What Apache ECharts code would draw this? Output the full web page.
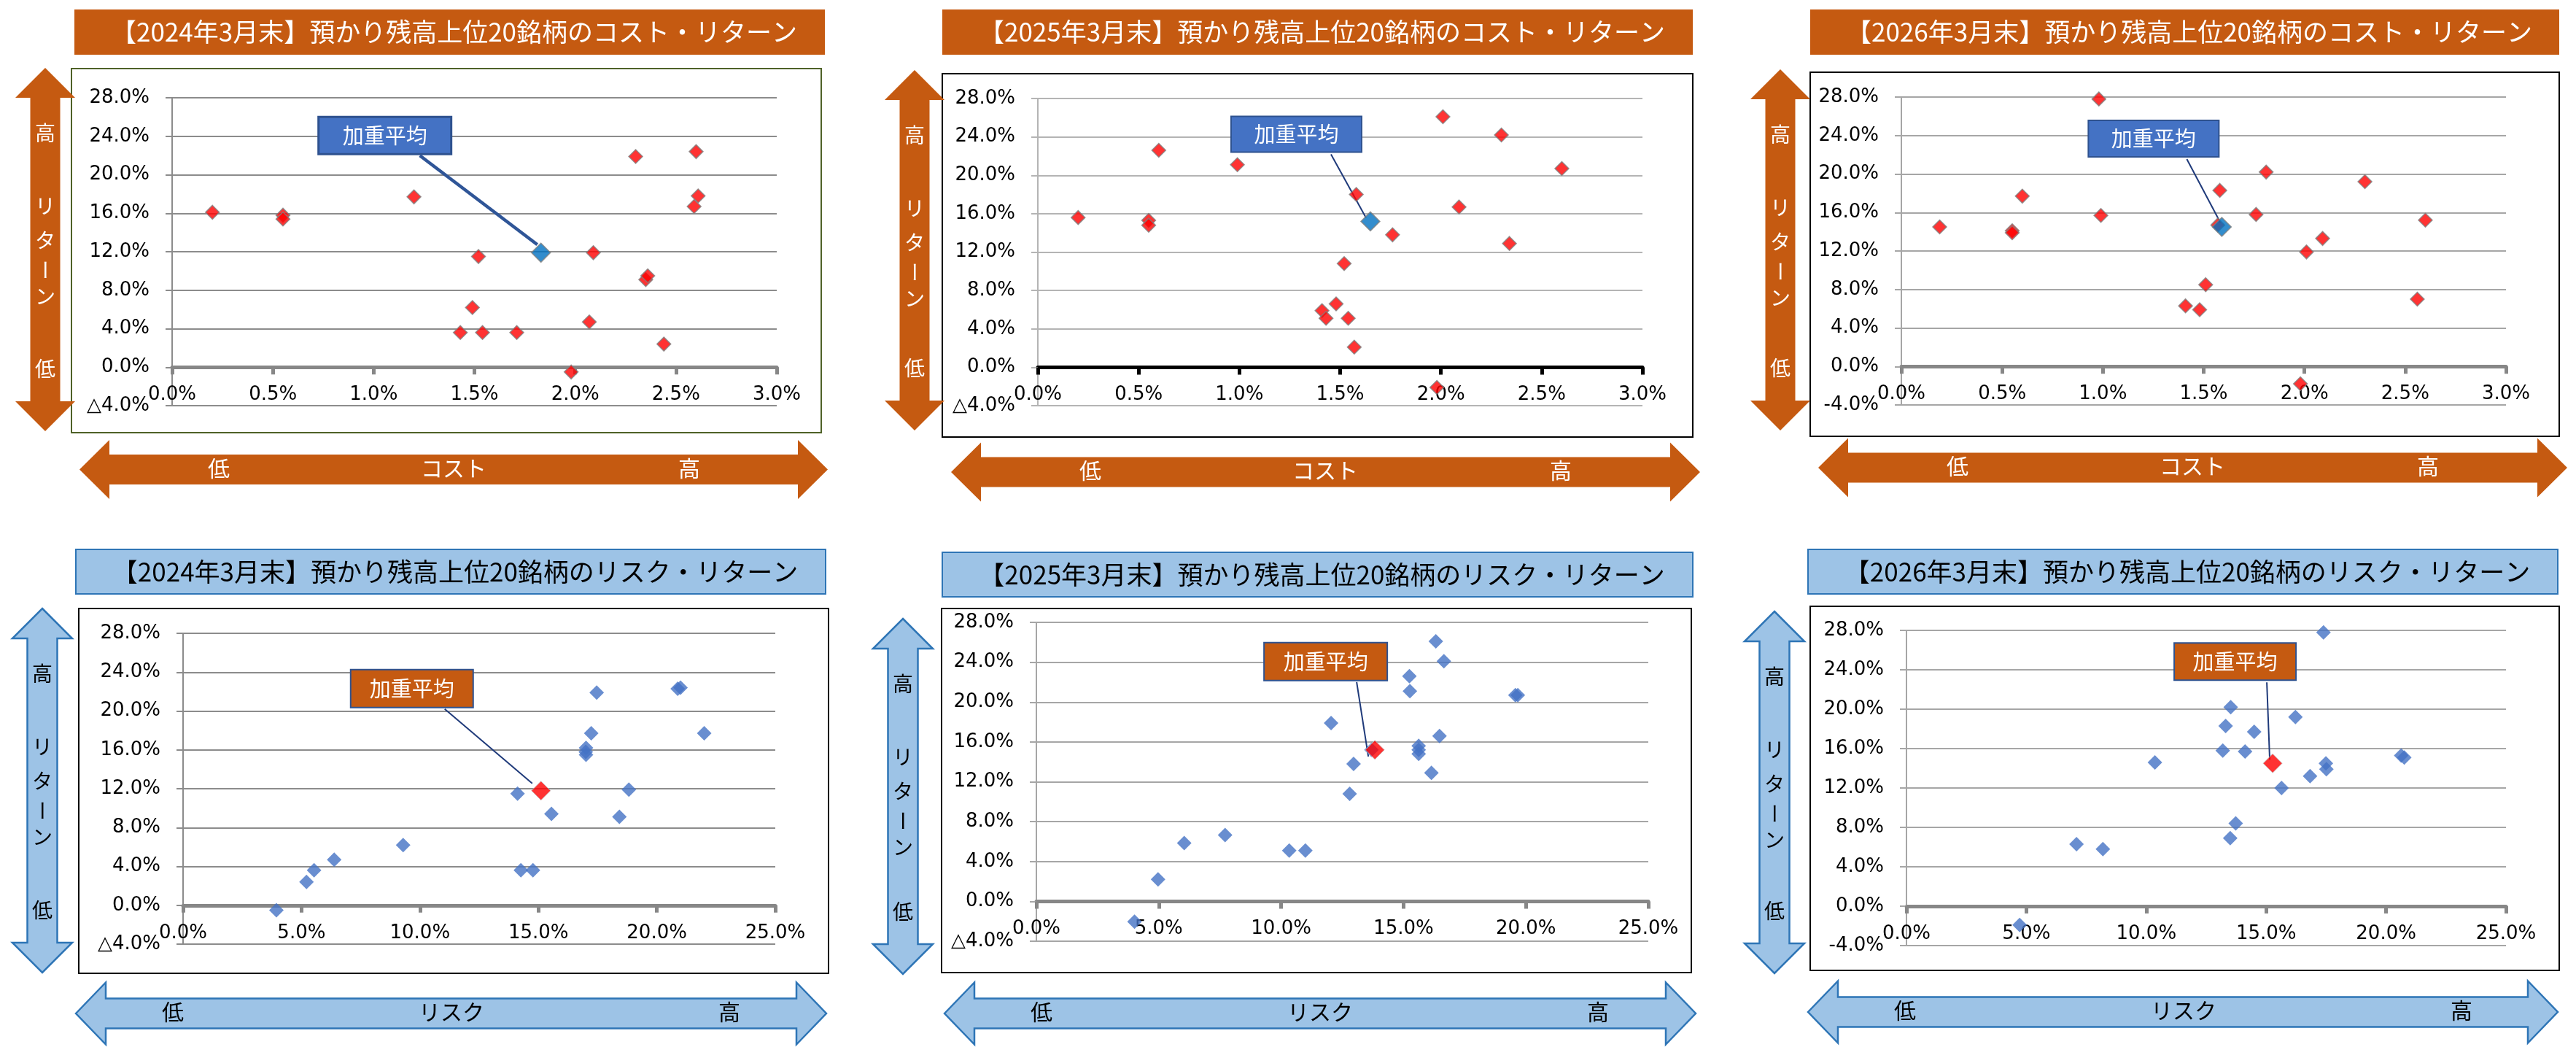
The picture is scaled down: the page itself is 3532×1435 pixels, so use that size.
<!DOCTYPE html>
<html><head><meta charset="utf-8">
<script src="https://cdn.jsdelivr.net/npm/echarts@6/dist/echarts.min.js"></script>
<style>html,body{margin:0;padding:0;background:#fff}#c{width:3532px;height:1435px}</style>
</head><body><div id="c"></div>
<script>
// ---------- DATA ----------
const cost2024X = [0.20, 0.55, 0.55, 1.20, 1.52, 1.49, 1.43, 1.54, 1.71, 1.98, 2.07, 2.09, 2.30, 2.35, 2.36, 2.44, 2.60, 2.61, 2.59];
const cost2024Y = [16.1, 15.8, 15.4, 17.7, 11.5, 6.2, 3.6, 3.6, 3.6, -0.5, 4.7, 11.9, 21.9, 9.1, 9.5, 2.4, 22.4, 17.8, 16.7];
const cost2024Avg = [1.83, 11.9];

const cost2025X = [0.20, 0.55, 0.55, 0.60, 0.99, 1.58, 1.52, 1.48, 1.41, 1.43, 1.54, 1.57, 1.76, 1.98, 2.01, 2.09, 2.30, 2.34, 2.60];
const cost2025Y = [15.6, 15.3, 14.8, 22.6, 21.1, 18.0, 10.8, 6.6, 5.9, 5.1, 5.1, 2.1, 13.8, -2.1, 26.1, 16.7, 24.2, 12.9, 20.7];
const cost2025Avg = [1.65, 15.2];

const cost2026X = [0.19, 0.55, 0.55, 0.60, 0.98, 0.99, 1.57, 1.58, 1.81, 1.76, 1.51, 1.41, 1.48, 1.98, 2.01, 2.09, 2.30, 2.56, 2.60];
const cost2026Y = [14.5, 14.1, 13.9, 17.7, 27.8, 15.7, 14.7, 18.3, 20.2, 15.8, 8.5, 6.3, 5.9, -1.8, 11.9, 13.3, 19.2, 7.0, 15.2];
const cost2026Avg = [1.59, 14.5];

const risk2024X = [3.94, 5.21, 5.53, 6.38, 9.29, 14.12, 14.26, 14.77, 15.55, 17.01, 17.01, 17.0, 17.23, 17.46, 18.42, 18.82, 20.88, 21.0, 22.0];
const risk2024Y = [-0.5, 2.4, 3.6, 4.7, 6.2, 11.5, 3.6, 3.6, 9.4, 16.2, 15.5, 15.8, 17.7, 21.9, 9.1, 11.9, 22.3, 22.4, 17.7];
const risk2024Avg = [15.11, 11.8];

const risk2025X = [4.01, 4.97, 6.04, 7.71, 10.33, 10.99, 12.04, 12.80, 12.96, 13.69, 15.24, 15.26, 15.62, 15.62, 15.62, 16.14, 16.32, 16.47, 16.65, 19.57, 19.67];
const risk2025Y = [-2.05, 2.2, 5.85, 6.65, 5.1, 5.1, 17.9, 10.8, 13.8, 15.2, 22.6, 21.1, 15.6, 15.2, 14.8, 12.9, 26.1, 16.6, 24.1, 20.7, 20.7];
const risk2025Avg = [13.83, 15.2];

const risk2026X = [4.72, 7.09, 8.19, 10.36, 13.19, 13.31, 13.52, 13.50, 13.73, 14.12, 14.50, 15.64, 16.22, 16.83, 17.39, 17.49, 17.51, 20.63, 20.76];
const risk2026Y = [-1.9, 6.3, 5.8, 14.6, 15.8, 18.3, 20.2, 6.9, 8.4, 15.7, 17.7, 12.0, 19.2, 13.2, 27.8, 14.5, 13.9, 15.3, 15.1];
const risk2026Avg = [15.27, 14.5];

const costTicks = ['0.0%', '0.5%', '1.0%', '1.5%', '2.0%', '2.5%', '3.0%'];
const riskTicks = ['0.0%', '5.0%', '10.0%', '15.0%', '20.0%', '25.0%'];
const returnTicksTri = ['△4.0%', '0.0%', '4.0%', '8.0%', '12.0%', '16.0%', '20.0%', '24.0%', '28.0%'];
const returnTicksMinus = ['-4.0%', '0.0%', '4.0%', '8.0%', '12.0%', '16.0%', '20.0%', '24.0%', '28.0%'];

const titles = [
  '【2024年3月末】預かり残高上位20銘柄のコスト・リターン',
  '【2025年3月末】預かり残高上位20銘柄のコスト・リターン',
  '【2026年3月末】預かり残高上位20銘柄のコスト・リターン',
  '【2024年3月末】預かり残高上位20銘柄のリスク・リターン',
  '【2025年3月末】預かり残高上位20銘柄のリスク・リターン',
  '【2026年3月末】預かり残高上位20銘柄のリスク・リターン'
];
const calloutText = '加重平均';
const vArrowTexts = ['高', 'リ', 'タ', 'ー', 'ン', '低'];
const costArrowTexts = ['低', 'コスト', '高'];
const riskArrowTexts = ['低', 'リスク', '高'];

// ---------- LAYOUT / STYLE ----------
const ORANGE = '#C55A11', LBLUE = '#9DC3E6', BBORDER = '#2E75B6';
const panels = [
  {xs: cost2024X, ys: cost2024Y, avg: cost2024Avg, xTicks: costTicks, xMax: 3, xInt: 0.5, yTicks: returnTicksTri, kind: 'cost',
   grid: {left: 236, top: 134, width: 829, height: 422}, frame: [98, 94, 1028, 499, '#4F6228'], title: [102, 13, 1029, 62],
   va: {xc: 62, y1: 93, y2: 591}, ha: {x1: 109, x2: 1135, yc: 643.5}, axisColor: '#878787', gridColor: '#8C8C8C',
   co: {box: [-305, -186, 182, 51], line: [-166, -133, -5, -11], lw: 4.5, bw: 3}},
  {xs: cost2025X, ys: cost2025Y, avg: cost2025Avg, xTicks: costTicks, xMax: 3, xInt: 0.5, yTicks: returnTicksTri, kind: 'cost',
   grid: {left: 1423, top: 135, width: 829, height: 421}, frame: [1292, 101, 1029, 498, '#000'], title: [1292, 13, 1029, 62],
   va: {xc: 1254, y1: 96, y2: 590}, ha: {x1: 1304, x2: 2331, yc: 647}, axisColor: '#000', gridColor: '#B4B4B4',
   co: {box: [-191, -144, 179, 49], line: [-54, -92, -6, -5], lw: 2, bw: 2}},
  {xs: cost2026X, ys: cost2026Y, avg: cost2026Avg, xTicks: costTicks, xMax: 3, xInt: 0.5, yTicks: returnTicksMinus, kind: 'cost',
   grid: {left: 2607, top: 133, width: 829, height: 422}, frame: [2482, 99, 1027, 499, '#000'], title: [2482, 13, 1027, 62],
   va: {xc: 2441, y1: 95, y2: 590}, ha: {x1: 2493, x2: 3520, yc: 641}, axisColor: '#878787', gridColor: '#A6A6A6',
   co: {box: [-183, -146, 179, 50], line: [-48, -93, -2, -6], lw: 2, bw: 2}},
  {xs: risk2024X, ys: risk2024Y, avg: risk2024Avg, xTicks: riskTicks, xMax: 25, xInt: 5, yTicks: returnTicksTri, kind: 'risk',
   grid: {left: 251, top: 868, width: 812, height: 426}, frame: [108, 834, 1028, 500, '#000'], title: [104, 753, 1028, 61],
   va: {xc: 58, y1: 834, y2: 1333}, ha: {x1: 104, x2: 1133, yc: 1389}, axisColor: '#878787', gridColor: '#8C8C8C',
   co: {box: [-261, -166, 168, 52], line: [-132, -112, -12, -10], lw: 2, bw: 2}},
  {xs: risk2025X, ys: risk2025Y, avg: risk2025Avg, xTicks: riskTicks, xMax: 25, xInt: 5, yTicks: returnTicksTri, kind: 'risk',
   grid: {left: 1421, top: 853, width: 839, height: 437}, frame: [1291, 834, 1028, 499, '#000'], title: [1292, 757, 1029, 61],
   va: {xc: 1238, y1: 848, y2: 1335}, ha: {x1: 1295, x2: 2325, yc: 1389}, axisColor: '#878787', gridColor: '#A6A6A6',
   co: {box: [-152, -147, 169, 52], line: [-25, -93, -9, 9], lw: 2, bw: 2}},
  {xs: risk2026X, ys: risk2026Y, avg: risk2026Avg, xTicks: riskTicks, xMax: 25, xInt: 5, yTicks: returnTicksMinus, kind: 'risk',
   grid: {left: 2614, top: 864, width: 822, height: 432}, frame: [2482, 831, 1027, 499, '#000'], title: [2479, 753, 1028, 61],
   va: {xc: 2433, y1: 838, y2: 1334}, ha: {x1: 2479, x2: 3507, yc: 1387}, axisColor: '#878787', gridColor: '#A6A6A6',
   co: {box: [-135, -165, 167, 51], line: [-8, -111, -4, -5], lw: 2, bw: 2}}
];

const NUM_FONT = 'DejaVu Sans';
const JP_FONT = '"Noto Sans CJK JP", "Noto Sans CJK SC", sans-serif';

const chart = echarts.init(document.getElementById('c'), null, {renderer: 'canvas'});

const option = {
  backgroundColor: '#fff',
  animation: false,
  grid: panels.map(p => Object.assign({containLabel: false}, p.grid)),
  xAxis: panels.map((p, i) => ({
    gridIndex: i, type: 'value', min: 0, max: p.xMax, interval: p.xInt,
    axisLine: {show: true, onZero: true, lineStyle: {color: p.axisColor, width: 5}},
    axisTick: {show: true, inside: false, length: 10, lineStyle: {color: p.axisColor, width: 5}},
    axisLabel: {show: true, margin: Math.round(25 - p.grid.height / 8), color: '#000', fontFamily: NUM_FONT, fontSize: 26,
      showMinLabel: true, showMaxLabel: true, hideOverlap: false,
      formatter: v => p.xTicks[Math.round(v / p.xInt)]},
    splitLine: {show: false}
  })),
  yAxis: panels.map((p, i) => ({
    gridIndex: i, type: 'value', min: -4, max: 28, interval: 4,
    axisLine: {show: true, onZero: false, lineStyle: {color: p.gridColor, width: 2}},
    axisTick: {show: true, inside: false, length: 9, lineStyle: {color: p.gridColor, width: 2}},
    axisLabel: {show: true, margin: 31, color: '#000', fontFamily: NUM_FONT, fontSize: 26,
      showMinLabel: true, showMaxLabel: true, hideOverlap: false,
      formatter: v => p.yTicks[Math.round((v + 4) / 4)]},
    splitLine: {show: true, lineStyle: {color: p.gridColor, width: 2}}
  })),
  series: []
};

panels.forEach((p, i) => {
  const isCost = p.kind === 'cost';
  option.series.push({
    type: 'scatter', xAxisIndex: i, yAxisIndex: i, symbol: 'diamond',
    symbolSize: isCost ? 19 : 20, z: 2,
    itemStyle: isCost ? {color: '#FF0000', borderColor: '#808080', borderWidth: 1.5}
                      : {color: '#4472C4', borderWidth: 0},
    data: p.xs.map((x, k) => [x, p.ys[k]])
  });
  option.series.push({
    type: 'scatter', xAxisIndex: i, yAxisIndex: i, symbol: 'diamond',
    symbolSize: 26, z: 3,
    itemStyle: isCost ? {color: '#0070C0', borderColor: '#808080', borderWidth: 1.5}
                      : {color: '#FF0000', borderColor: '#BFBFBF', borderWidth: 1},
    data: [p.avg]
  });
});

chart.setOption(option);

// ---------- DECORATION ----------
function txt(x, y, text, size, fill, extra) {
  return Object.assign({type: 'text', x: x, y: y, z: 6,
    style: {text: text, fill: fill, font: size + 'px ' + JP_FONT,
      align: 'center', verticalAlign: 'middle', textAlign: 'center', textVerticalAlign: 'middle'}}, extra || {});
}
function hArrowPts(a) {
  const hl = 41, hh = a.hh || 41, sh = 20.5, x1 = a.x1, x2 = a.x2, y = a.yc;
  return [[x1, y], [x1 + hl, y - hh], [x1 + hl, y - sh], [x2 - hl, y - sh], [x2 - hl, y - hh], [x2, y],
          [x2 - hl, y + hh], [x2 - hl, y + sh], [x1 + hl, y + sh], [x1 + hl, y + hh]];
}
function vArrowPts(a) {
  const hl = 41, hh = 41, sh = 20.5, y1 = a.y1, y2 = a.y2, x = a.xc;
  return [[x, y1], [x + hh, y1 + hl], [x + sh, y1 + hl], [x + sh, y2 - hl], [x + hh, y2 - hl], [x, y2],
          [x - hh, y2 - hl], [x - sh, y2 - hl], [x - sh, y1 + hl], [x - hh, y1 + hl]];
}

const g = [];
panels.forEach((p, i) => {
  const isCost = p.kind === 'cost';
  const t = p.title;
  g.push({type: 'rect', z: 4, shape: {x: t[0], y: t[1], width: t[2], height: t[3]},
    style: isCost ? {fill: ORANGE} : {fill: LBLUE, stroke: BBORDER, lineWidth: 2}});
  g.push(txt(t[0] + t[2] / 2 + 6, t[1] + t[3] / 2, titles[i], 35, isCost ? '#fff' : '#000'));
  const f = p.frame;
  g.push({type: 'rect', z: 4, shape: {x: f[0], y: f[1], width: f[2], height: f[3]},
    style: {fill: 'none', stroke: f[4], lineWidth: 2}});
  const arrowStyle = isCost ? {fill: ORANGE} : {fill: LBLUE, stroke: BBORDER, lineWidth: 2.5};
  const tc = isCost ? '#fff' : '#000';
  g.push({type: 'polygon', z: 5, shape: {points: vArrowPts(p.va)}, style: arrowStyle});
  const y1 = p.va.y1, y2 = p.va.y2, xc = p.va.xc;
  const vOff = [89, 189, 236, 277, 313];
  vOff.forEach((o, k) => {
    if (k === 3) g.push(txt(xc, y1 + o, vArrowTexts[k], 28, tc, {rotation: -Math.PI / 2}));
    else g.push(txt(xc, y1 + o, vArrowTexts[k], 28, tc));
  });
  g.push(txt(xc, y2 - 86, vArrowTexts[5], 28, tc));
  const ha = Object.assign({hh: isCost ? 40.5 : 42.5}, p.ha);
  g.push({type: 'polygon', z: 5, shape: {points: hArrowPts(ha)}, style: arrowStyle});
  const hOff = isCost ? [191, 513, 836] : [133, 515, 896];
  const hTexts = isCost ? costArrowTexts : riskArrowTexts;
  hOff.forEach((o, k) => g.push(txt(p.ha.x1 + o, p.ha.yc - 2, hTexts[k], 30, tc)));
  const pt = chart.convertToPixel({gridIndex: i}, p.avg);
  const c = p.co;
  g.push({type: 'line', z: 1, shape: {x1: pt[0] + c.line[0], y1: pt[1] + c.line[1], x2: pt[0] + c.line[2], y2: pt[1] + c.line[3]},
    style: {stroke: i === 0 ? '#2F5597' : '#1F3A7A', lineWidth: c.lw}});
  g.push({type: 'rect', z: 6, shape: {x: pt[0] + c.box[0], y: pt[1] + c.box[1], width: c.box[2], height: c.box[3]},
    style: {fill: isCost ? '#4472C4' : ORANGE, stroke: '#2F528F', lineWidth: c.bw}});
  g.push(txt(pt[0] + c.box[0] + c.box[2] / 2, pt[1] + c.box[1] + c.box[3] / 2, calloutText, 29, '#fff', {z: 7}));
});

chart.setOption({graphic: {elements: g}});
</script>
</body></html>
